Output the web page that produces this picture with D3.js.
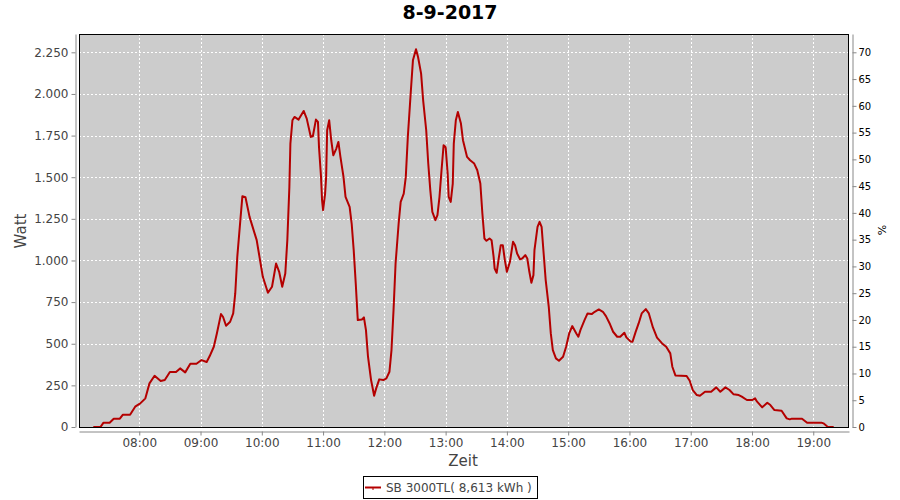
<!DOCTYPE html>
<html><head><meta charset="utf-8">
<script src="https://cdn.jsdelivr.net/npm/d3@7"></script>
<style>body{margin:0;background:#fff} svg{display:block;font-family:"DejaVu Sans",sans-serif}</style>
</head><body><svg id="c" width="900" height="500"></svg>
<script>
// ---- data ----
const times = ["07:15","07:22","07:25","07:31","07:35","07:41","07:44","07:51","07:56","08:01","08:06","08:10","08:15","08:21","08:25","08:30","08:36","08:40","08:45","08:50","08:56","09:01","09:06","09:09","09:13","09:16","09:20","09:22","09:25","09:29","09:32","09:34","09:36","09:39","09:41","09:44","09:47","09:48","09:55","10:01","10:06","10:10","10:14","10:17","10:20","10:23","10:25","10:27","10:28","10:30","10:32","10:36","10:41","10:44","10:48","10:50","10:53","10:55","10:56","10:58","10:59","11:00","11:02","11:03","11:04","11:06","11:08","11:10","11:13","11:15","11:17","11:20","11:22","11:26","11:28","11:30","11:32","11:34","11:38","11:40","11:42","11:44","11:47","11:50","11:52","11:55","11:59","12:02","12:05","12:07","12:09","12:11","12:14","12:16","12:19","12:21","12:23","12:26","12:28","12:31","12:33","12:36","12:38","12:41","12:43","12:45","12:47","12:50","12:52","12:54","12:56","12:58","13:00","13:02","13:03","13:05","13:07","13:08","13:10","13:12","13:15","13:17","13:21","13:24","13:28","13:31","13:34","13:36","13:38","13:40","13:43","13:45","13:47","13:48","13:50","13:52","13:54","13:56","13:58","14:00","14:03","14:06","14:08","14:10","14:13","14:15","14:18","14:20","14:22","14:24","14:26","14:27","14:30","14:32","14:34","14:36","14:38","14:41","14:43","14:45","14:48","14:51","14:55","14:58","15:01","15:04","15:08","15:10","15:12","15:16","15:19","15:23","15:26","15:30","15:34","15:37","15:41","15:44","15:48","15:51","15:55","15:57","16:01","16:03","16:06","16:09","16:12","16:16","16:19","16:23","16:27","16:32","16:36","16:40","16:42","16:45","16:56","16:59","17:02","17:06","17:09","17:14","17:20","17:25","17:29","17:34","17:38","17:42","17:47","17:50","17:55","18:00","18:03","18:05","18:10","18:15","18:18","18:22","18:29","18:34","18:37","18:39","18:49","18:54","19:08","19:10","19:14","19:20"];
const watts = [0,0,26,26,50,50,74,74,122,142,172,262,308,276,282,330,330,352,328,380,380,402,390,426,482,562,678,662,608,632,682,802,1022,1242,1386,1380,1292,1262,1122,902,806,842,982,932,842,922,1122,1442,1702,1842,1862,1846,1898,1852,1742,1746,1846,1832,1682,1502,1362,1302,1402,1502,1782,1842,1722,1632,1672,1712,1622,1502,1382,1322,1222,1062,862,642,646,658,582,422,282,188,232,286,282,292,332,462,702,982,1222,1352,1402,1502,1742,2022,2202,2268,2222,2122,1962,1782,1582,1422,1292,1242,1272,1382,1542,1692,1682,1522,1382,1352,1462,1702,1842,1892,1822,1722,1622,1602,1582,1542,1462,1282,1132,1118,1132,1122,1022,952,926,1012,1092,1092,1002,932,992,1112,1092,1042,1006,1012,1032,1012,932,866,912,1062,1202,1232,1202,1042,882,722,562,462,412,398,422,482,562,606,562,542,582,642,682,678,692,706,692,666,617,572,542,542,566,538,514,512,570,622,682,708,682,598,537,502,482,442,362,310,306,278,222,192,188,212,212,238,212,238,222,196,192,182,162,162,172,152,118,146,132,102,98,52,46,50,50,26,26,22,2,0];
const wattTicks = [0,250,500,750,1000,1250,1500,1750,2000,2250];
const pctTicks = [0,5,10,15,20,25,30,35,40,45,50,55,60,65,70];
const hourTicks = ["08:00","09:00","10:00","11:00","12:00","13:00","14:00","15:00","16:00","17:00","18:00","19:00"];
const timeDomain = ["07:01","19:35"];
const wattDomain = [0,2360];
const pctDomain = [0,73.42];
const titleText = "8-9-2017";
const seriesName = "SB 3000TL( 8,613 kWh )";
const xLabel = "Zeit", yLabel = "Watt", y2Label = "%";

// ---- drawing ----
const parse = d3.timeParse("%H:%M");
const fmtWatt = v => d3.format(",")(v).replace(/,/g, ".");
const svg = d3.select("#c");
const P = {l:79, r:849, t:34, b:427};

const x = d3.scaleTime().domain(timeDomain.map(parse)).range([P.l, P.r]);
const y = d3.scaleLinear().domain(wattDomain).range([P.b, P.t]);
const y2 = d3.scaleLinear().domain(pctDomain).range([P.b, P.t]);

// title
svg.append("text").attr("x", 450).attr("y", 19).attr("text-anchor", "middle")
  .attr("font-size", 19).attr("font-weight", "bold").attr("fill", "#000").text(titleText);

// plot background
svg.append("rect").attr("x", P.l).attr("y", P.t).attr("width", P.r - P.l).attr("height", P.b - P.t)
  .attr("fill", "#cccccc");

// grid
const grid = svg.append("g").attr("stroke", "#fff").attr("stroke-width", 1).attr("stroke-dasharray", "2,2");
grid.selectAll("line.h").data(wattTicks).join("line").attr("class", "h")
  .attr("x1", P.l).attr("x2", P.r).attr("y1", d => Math.round(y(d)) + 0.5).attr("y2", d => Math.round(y(d)) + 0.5);
grid.selectAll("line.v").data(hourTicks.map(parse)).join("line").attr("class", "v")
  .attr("y1", P.t).attr("y2", P.b).attr("x1", d => Math.round(x(d)) + 0.5).attr("x2", d => Math.round(x(d)) + 0.5);

// series
svg.append("defs").append("clipPath").attr("id", "clip").append("rect")
  .attr("x", P.l).attr("y", P.t).attr("width", P.r - P.l).attr("height", P.b - P.t);
const data = times.map((t, i) => ({t: parse(t), v: watts[i]}));
svg.append("path").datum(data).attr("clip-path", "url(#clip)")
  .attr("fill", "none").attr("stroke", "#b40000").attr("stroke-width", 2).attr("stroke-linejoin", "round")
  .attr("d", d3.line().x(d => x(d.t)).y(d => y(d.v)));

// plot border
svg.append("rect").attr("x", P.l + 0.5).attr("y", P.t + 0.5).attr("width", P.r - P.l - 1).attr("height", P.b - P.t)
  .attr("fill", "none").attr("stroke", "#000").attr("stroke-width", 1);

// axes
function styleAxis(g, color) {
  g.select(".domain").attr("stroke", "#888");
  g.selectAll(".tick line").attr("stroke", "#888");
  g.selectAll(".tick text").attr("fill", color);
}
const gl = svg.append("g").attr("transform", `translate(75.5,0)`)
  .call(d3.axisLeft(y).tickValues(wattTicks).tickFormat(fmtWatt).tickSize(4).tickSizeOuter(0).tickPadding(3))
  .attr("font-size", 12).attr("font-family", "DejaVu Sans");
styleAxis(gl, "#444");
const gb = svg.append("g").attr("transform", `translate(0,431.5)`)
  .call(d3.axisBottom(x).tickValues(hourTicks.map(parse)).tickFormat(d3.timeFormat("%H:%M")).tickSize(4).tickSizeOuter(0).tickPadding(3))
  .attr("font-size", 12).attr("font-family", "DejaVu Sans");
styleAxis(gb, "#444");
const gr = svg.append("g").attr("transform", `translate(852.5,0)`)
  .call(d3.axisRight(y2).tickValues(pctTicks).tickSize(4).tickSizeOuter(0).tickPadding(2))
  .attr("font-size", 10).attr("font-family", "DejaVu Sans");
styleAxis(gr, "#000");

// axis labels
svg.append("text").attr("x", 463).attr("y", 466).attr("text-anchor", "middle")
  .attr("font-size", 15).attr("fill", "#444").text(xLabel);
svg.append("text").attr("transform", "translate(26,231) rotate(-90)").attr("text-anchor", "middle")
  .attr("font-size", 15).attr("fill", "#444").text(yLabel);
svg.append("text").attr("transform", "translate(886,230) rotate(-90)").attr("text-anchor", "middle")
  .attr("font-size", 11).attr("fill", "#000").text(y2Label);

// legend
const lg = svg.append("g");
lg.append("rect").attr("x", 363.5).attr("y", 476.5).attr("width", 174).attr("height", 22)
  .attr("fill", "#fff").attr("stroke", "#000");
lg.append("line").attr("x1", 365).attr("x2", 381).attr("y1", 487.5).attr("y2", 487.5)
  .attr("stroke", "#b40000").attr("stroke-width", 2);
lg.append("line").attr("x1", 373).attr("x2", 373).attr("y1", 487).attr("y2", 490)
  .attr("stroke", "#b40000").attr("stroke-width", 1);
lg.append("text").attr("x", 386).attr("y", 492).attr("font-size", 12).attr("fill", "#444").text(seriesName);
</script>
</body></html>
